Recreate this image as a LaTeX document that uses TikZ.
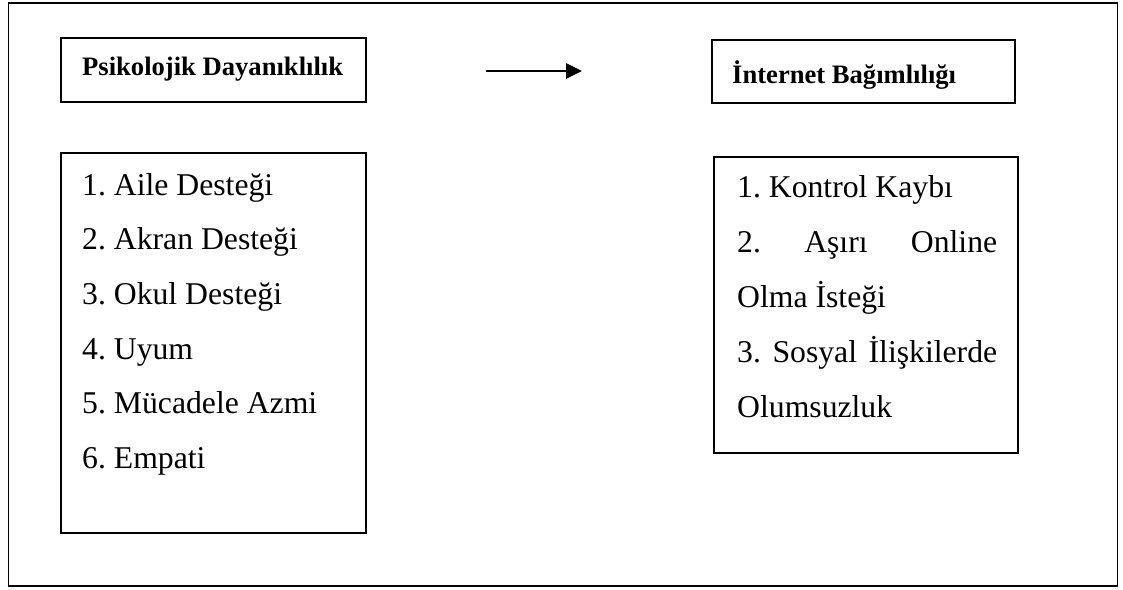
\documentclass[tikz,border=0pt]{standalone}
\usepackage{fontspec}
\setmainfont{Liberation Serif}[BoldFont={Liberation Serif Bold}]
\usetikzlibrary{arrows.meta}
\tikzset{
  frame/.style={draw=black, line width=1.8pt},
  boxed/.style={draw=black, line width=1.6pt, rectangle, inner sep=0pt},
  head/.style={inner sep=0pt, anchor=base west, font=\fontsize{26.6}{30}\selectfont\bfseries},
  item/.style={inner sep=0pt, anchor=base west, font=\fontsize{31.7}{40}\selectfont},
}
\begin{document}
\frenchspacing
\begin{tikzpicture}[x=1pt,y=-1pt]
\useasboundingbox (0,0) rectangle (1123,589);
% outer frame
\node[frame, rectangle, inner sep=0pt, minimum width=1109pt, minimum height=583pt] (outer) at (563,294.5) {};
% left header box
\node[boxed, minimum width=305pt, minimum height=64pt] (b1) at (213.5,70) {};
\node[head] (t1) at (82,75) {Psikolojik Dayanıklılık};
% right header box
\node[boxed, minimum width=303pt, minimum height=63pt] (b3) at (863.5,71.5) {};
\node[head] (t3) at (732,83) {İnternet Bağımlılığı};
% arrow
\coordinate (a1) at (486,71);
\coordinate (a2) at (582,71);
\draw[line width=2.6pt, -{Triangle[length=16pt,width=15pt]}] (a1) -- (a2);
% left list box
\node[boxed, minimum width=305pt, minimum height=380pt] (b2) at (213.5,343) {};
\node[item] (l1) at (82,195) {1. Aile Desteği};
\node[item] (l2) at (82,249.7) {2. Akran Desteği};
\node[item] (l3) at (82,304.4) {3. Okul Desteği};
\node[item] (l4) at (82,359.1) {4. Uyum};
\node[item] (l5) at (82,413.8) {5. Mücadele Azmi};
\node[item] (l6) at (82,468.5) {6. Empati};
% right list box
\node[boxed, minimum width=304pt, minimum height=296pt] (b4) at (866,305) {};
\node[item] (r1) at (737,197) {1. Kontrol Kaybı};
\node[item] (r2) at (737,252) {\makebox[260pt][s]{2. Aşırı Online}};
\node[item] (r3) at (737,307) {Olma İsteği};
\node[item] (r4) at (737,362) {\makebox[260pt][s]{3. Sosyal İlişkilerde}};
\node[item] (r5) at (737,417) {Olumsuzluk};
\end{tikzpicture}
\end{document}
